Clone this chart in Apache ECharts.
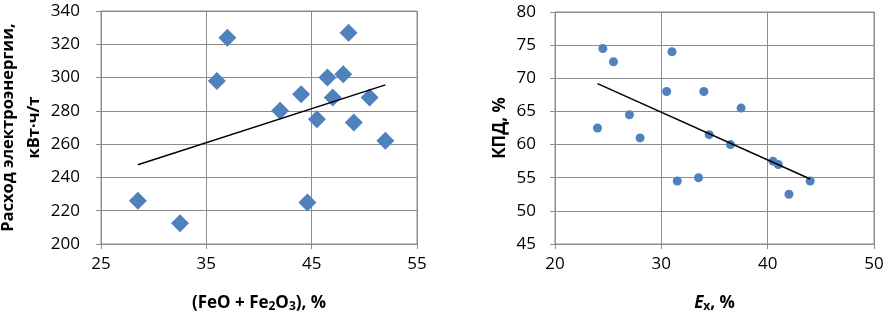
<!DOCTYPE html>
<html>
<head>
<meta charset="utf-8">
<script src="https://cdn.jsdelivr.net/npm/echarts@6/dist/echarts.min.js"></script>
<style>
  html, body { margin: 0; padding: 0; background: #fff; }
  #chart { width: 885px; height: 314px; }
</style>
</head>
<body>
<div id="chart"></div>
<script>
// left panel: (FeO + Fe2O3), % vs energy use
const ironOxide = [28.5, 32.5, 36, 37, 42, 44, 44.6, 45.5, 46.5, 47, 48, 48.5, 49, 50.5, 52]
const energyUse = [226, 212.5, 298, 324, 280, 290, 225, 275, 300, 288, 302, 327, 273, 288, 262]
const energyTrendX = [28.5, 52]
const energyTrendY = [247.6, 295.6]

// right panel: Ex, % vs efficiency
const exValues = [24.5, 25.5, 24, 27, 28, 30.5, 31, 31.5, 33.5, 34, 34.5, 36.5, 37.5, 40.5, 41, 42, 44]
const efficiency = [74.5, 72.5, 62.5, 64.5, 61, 68, 74, 54.5, 55, 68, 61.5, 60, 65.5, 57.5, 57, 52.5, 54.5]
const effTrendX = [24, 44]
const effTrendY = [69.2, 54.8]

const pair = (xs, ys) => xs.map((x, i) => [x, ys[i]])

const font = 'Open Sans'
const gridColor = '#8c8c8c'
const blue = '#4f81bd'

const axisCommon = {
  axisLine: { show: true, lineStyle: { color: gridColor, width: 1 } },
  axisTick: { show: true, inside: false, length: 5, lineStyle: { color: gridColor } },
  splitLine: { show: true, lineStyle: { color: gridColor, width: 1 } },
  axisLabel: { color: '#000', fontFamily: font, fontSize: 17 }
}
const boldName = { fontFamily: font, fontWeight: 'bold', fontSize: 17, color: '#000' }
const subName = { fontFamily: font, fontWeight: 'bold', fontSize: 12, color: '#000', verticalAlign: 'bottom', padding: [8, 0, 0, 0] }

const myChart = echarts.init(document.getElementById('chart'), null, { renderer: 'canvas' })
myChart.setOption({
  animation: false,
  grid: [
    { left: 101, right: 468, top: 11, bottom: 70, show: true, borderColor: gridColor, borderWidth: 1, outerBoundsMode: 'none', containLabel: false },
    { left: 555, right: 11, top: 12, bottom: 70, show: true, borderColor: gridColor, borderWidth: 1, outerBoundsMode: 'none', containLabel: false }
  ],
  xAxis: [
    {
      ...axisCommon,
      gridIndex: 0, type: 'value', min: 25, max: 55, interval: 10,
      axisLabel: { ...axisCommon.axisLabel, margin: 12 },
      name: '{b|(FeO + Fe}{s|2}{b|O}{s|3}{b|), %}',
      nameLocation: 'middle', nameGap: 49,
      nameTextStyle: { rich: { b: boldName, s: subName } }
    },
    {
      ...axisCommon,
      gridIndex: 1, type: 'value', min: 20, max: 50, interval: 10,
      axisLabel: { ...axisCommon.axisLabel, margin: 12 },
      name: '{i|E}{s|х}{b|, %}',
      nameLocation: 'middle', nameGap: 49,
      nameTextStyle: { rich: { i: { ...boldName, fontStyle: 'italic' }, b: boldName, s: subName } }
    }
  ],
  yAxis: [
    {
      ...axisCommon,
      gridIndex: 0, type: 'value', min: 200, max: 340, interval: 20,
      axisLabel: { ...axisCommon.axisLabel, margin: 21 },
      name: 'Расход электроэнергии,\nкВт·ч/т',
      nameLocation: 'middle', nameGap: 46, nameRotate: 90,
      nameTextStyle: { ...boldName, fontSize: 16.5, lineHeight: 26 }
    },
    {
      ...axisCommon,
      gridIndex: 1, type: 'value', min: 45, max: 80, interval: 5,
      axisLabel: { ...axisCommon.axisLabel, margin: 19 },
      name: 'КПД, %',
      nameLocation: 'middle', nameGap: 46, nameRotate: 90,
      nameTextStyle: boldName
    }
  ],
  series: [
    {
      type: 'scatter', xAxisIndex: 0, yAxisIndex: 0,
      symbol: 'diamond', symbolSize: [18, 18],
      itemStyle: { color: blue, opacity: 1 },
      data: pair(ironOxide, energyUse)
    },
    {
      type: 'line', xAxisIndex: 0, yAxisIndex: 0,
      symbol: 'none', silent: true,
      lineStyle: { color: '#000', width: 1.5 },
      data: pair(energyTrendX, energyTrendY)
    },
    {
      type: 'scatter', xAxisIndex: 1, yAxisIndex: 1,
      symbol: 'circle', symbolSize: 9,
      itemStyle: { color: blue, opacity: 1 },
      data: pair(exValues, efficiency)
    },
    {
      type: 'line', xAxisIndex: 1, yAxisIndex: 1,
      symbol: 'none', silent: true,
      lineStyle: { color: '#000', width: 1.5 },
      data: pair(effTrendX, effTrendY)
    }
  ]
})
</script>
</body>
</html>
